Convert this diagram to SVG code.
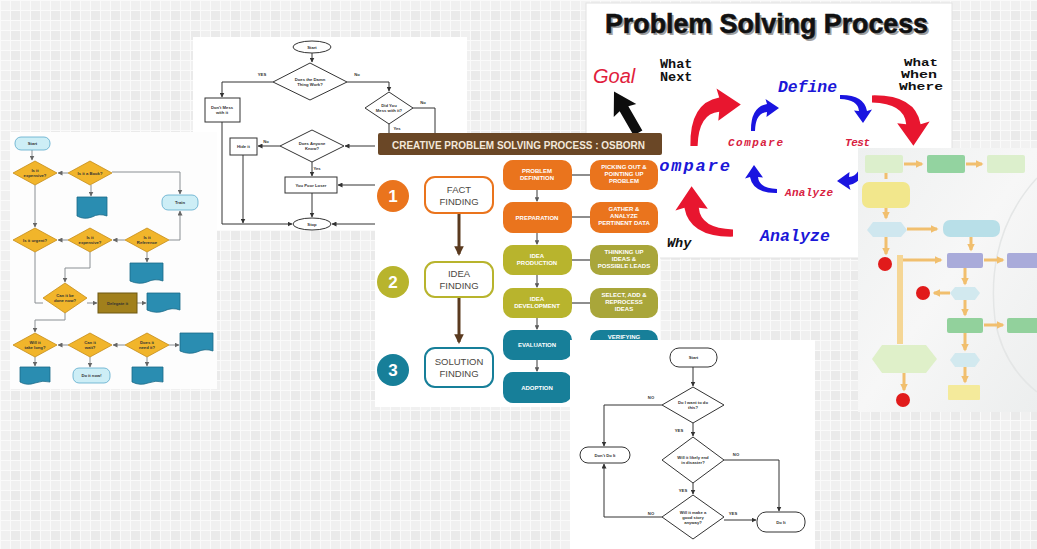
<svg xmlns="http://www.w3.org/2000/svg" width="1037" height="549" viewBox="0 0 1037 549">
<defs>
<pattern id="grid" width="20" height="20" patternUnits="userSpaceOnUse">
<rect width="20" height="20" fill="#eaeaea"/>
<rect width="10" height="20" fill="#f0f0f0"/>
<rect width="20" height="10" fill="#f3f3f3" opacity="0.6"/>
<path d="M0 0.5H20M0 10.5H20M0.5 0V20M10.5 0V20" stroke="#fafafa" stroke-width="1"/>
</pattern>
<linearGradient id="eg" x1="0" y1="0" x2="1" y2="1">
<stop offset="0" stop-color="#eef0f0"/><stop offset="0.5" stop-color="#f7f7f7"/><stop offset="1" stop-color="#eceeee"/>
</linearGradient>
<marker id="ah" viewBox="0 0 10 10" refX="9" refY="5" markerWidth="5" markerHeight="5" orient="auto"><path d="M0 0L10 5L0 10z" fill="#333"/></marker>
<marker id="ahg" viewBox="0 0 10 10" refX="9" refY="5" markerWidth="5" markerHeight="5" orient="auto"><path d="M0 0L10 5L0 10z" fill="#666"/></marker>
<marker id="ahb" viewBox="0 0 10 10" refX="8" refY="5" markerWidth="3.2" markerHeight="3.2" orient="auto"><path d="M0 0L10 5L0 10z" fill="#5a3a1f"/></marker>
<marker id="ahs" viewBox="0 0 10 10" refX="8" refY="5" markerWidth="4" markerHeight="4" orient="auto"><path d="M0 0L10 5L0 10z" fill="#5a5a5a"/></marker>
<marker id="aho" viewBox="0 0 10 10" refX="8" refY="5" markerWidth="2.5" markerHeight="2.5" orient="auto"><path d="M0 0L10 5L0 10z" fill="#f1bf6e"/></marker>
<path id="curv" d="M -4 50 Q -5 2 28 -4 L 25 -14 L 52 4 L 27 22 L 28 12 Q 5 14 4 50 Z"/>
<style>
.t{font-family:"Liberation Sans",Arial,sans-serif}
.tiny{font-family:"Liberation Sans",Arial,sans-serif;font-size:4.2px;font-weight:bold;fill:#333;text-anchor:middle}
.pill{font-family:"Liberation Sans",Arial,sans-serif;font-size:6px;font-weight:bold;fill:#fff;text-anchor:middle}
.big{font-family:"Liberation Sans",Arial,sans-serif;font-size:9.5px;fill:#4b4743;text-anchor:middle}
.num{font-family:"Liberation Sans",Arial,sans-serif;font-size:17px;font-weight:bold;fill:#fff;text-anchor:middle}
.mono{font-family:"Liberation Mono","DejaVu Sans Mono",monospace;font-weight:bold}
.blu{fill:#1b17d8;font-style:italic}
.rd{fill:#d8213f;font-style:italic}
.blk{fill:#111}
.ln{fill:none;stroke:#333;stroke-width:1}
.lg{fill:none;stroke:#8a8f93;stroke-width:1}
.dia{fill:#f1b52b;stroke:#c58d18;stroke-width:0.8}
.doc{fill:#2a8db1;stroke:#1a6a88;stroke-width:0.8}
.term{fill:#cdeef6;stroke:#5aaacb;stroke-width:0.8}
.bw{fill:#fff;stroke:#333;stroke-width:1}
.ora{fill:#ea741d}
.oli{fill:#b8b42d}
.oli2{fill:#a9a63a}
.tea{fill:#177f99}
.oar{fill:none;stroke:#f1bf6e;stroke-width:3}
.ra{fill:#e8162f}
.ba{fill:#1a14e0}
</style>
</defs>

<rect width="1037" height="549" fill="url(#grid)"/>

<!-- Panel B: black and white flowchart -->
<g id="panelB">
<rect x="193" y="37" width="274" height="193" fill="#fff"/>
<g id="connectorsB">
<path class="ln" d="M312 53V62" marker-end="url(#ah)"/>
<path class="ln" d="M273 82H222V97" marker-end="url(#ah)"/>
<path class="ln" d="M347 82H389V91" marker-end="url(#ah)"/>
<path class="ln" d="M413 108H435V140"/>
<path class="ln" d="M389 124V140"/>
<path class="ln" d="M280 146H258" marker-end="url(#ah)"/>
<path class="ln" d="M380 146H345" marker-end="url(#ah)"/>
<path class="ln" d="M312 162V176" marker-end="url(#ah)"/>
<path class="ln" d="M380 185H338" marker-end="url(#ah)"/>
<path class="ln" d="M312 193V217" marker-end="url(#ah)"/>
<path class="ln" d="M222 122V224H292" marker-end="url(#ah)"/>
<path class="ln" d="M243 155V223" marker-end="url(#ah)"/>
<path class="ln" d="M380 224H332" marker-end="url(#ah)"/>
</g>
<g id="b-start"><ellipse class="bw" cx="312" cy="47" rx="19" ry="6"/><text class="tiny" x="312" y="48.5">Start</text></g>
<g id="b-d1"><polygon class="bw" points="273,82 310,63 347,82 310,100"/><text class="tiny" x="310" y="81">Does the Damn</text><text class="tiny" x="310" y="86">Thing Work?</text></g>
<g id="b-dontmess"><rect class="bw" x="205" y="98" width="35" height="24"/><text class="tiny" x="222" y="109">Don't Mess</text><text class="tiny" x="222" y="114">with it</text></g>
<g id="b-d2"><polygon class="bw" points="365,108 389,92 413,108 389,124"/><text class="tiny" x="389" y="107">Did You</text><text class="tiny" x="389" y="112">Mess with it?</text></g>
<g id="b-d3"><polygon class="bw" points="280,146 312,130 344,146 312,162"/><text class="tiny" x="312" y="145">Does Anyone</text><text class="tiny" x="312" y="150">Know?</text></g>
<g id="b-hide"><rect class="bw" x="230" y="138" width="27" height="17"/><text class="tiny" x="243.5" y="148">Hide it</text></g>
<g id="b-loser"><rect class="bw" x="285" y="177" width="52" height="16"/><text class="tiny" x="311" y="186.5">You Poor Loser</text></g>
<g id="b-stop"><ellipse class="bw" cx="312" cy="224" rx="19" ry="6"/><text class="tiny" x="312" y="225.5">Stop</text></g>
<g id="b-labels">
<text class="tiny" x="262" y="76">YES</text><text class="tiny" x="357" y="76">No</text>
<text class="tiny" x="423" y="104">No</text><text class="tiny" x="397" y="130">Yes</text>
<text class="tiny" x="266" y="143">No</text><text class="tiny" x="317" y="170">Yes</text>
</g>
</g>

<!-- Panel A: yellow diamond flowchart -->
<g id="panelA">
<rect x="10" y="132" width="207" height="257" fill="#fdfdfd"/>
<g id="connectorsA">
<path class="lg" d="M32 150V160" marker-end="url(#ahg)"/>
<path class="lg" d="M68 173H58" marker-end="url(#ahg)"/>
<path class="lg" d="M91 185V196" marker-end="url(#ahg)"/>
<path class="lg" d="M112 172H180V194" marker-end="url(#ahg)"/>
<path class="lg" d="M35 185V227" marker-end="url(#ahg)"/>
<path class="lg" d="M68 240H58" marker-end="url(#ahg)"/>
<path class="lg" d="M125 240H113" marker-end="url(#ahg)"/>
<path class="lg" d="M169 240H180V211" marker-end="url(#ahg)"/>
<path class="lg" d="M147 252V262" marker-end="url(#ahg)"/>
<path class="lg" d="M90 252V268H65V282" marker-end="url(#ahg)"/>
<path class="lg" d="M35 252V303H43"/>
<path class="lg" d="M87 303H97" marker-end="url(#ahg)"/>
<path class="lg" d="M137 303H146" marker-end="url(#ahg)"/>
<path class="lg" d="M65 313V320H35V332" marker-end="url(#ahg)"/>
<path class="lg" d="M68 345H58" marker-end="url(#ahg)"/>
<path class="lg" d="M125 345H113" marker-end="url(#ahg)"/>
<path class="lg" d="M169 345H179" marker-end="url(#ahg)"/>
<path class="lg" d="M35 357V366" marker-end="url(#ahg)"/>
<path class="lg" d="M90 357V367" marker-end="url(#ahg)"/>
<path class="lg" d="M147 357V366" marker-end="url(#ahg)"/>
</g>
<g id="a-start"><rect class="term" x="15" y="137" width="35" height="13" rx="6"/><text class="tiny" x="32.5" y="145">Start</text></g>
<g id="a-d1"><polygon class="dia" points="13,173 35,161 57,173 35,185"/><text class="tiny" x="35" y="172">Is it</text><text class="tiny" x="35" y="177">expensive?</text></g>
<g id="a-d2"><polygon class="dia" points="68,173 90,161 112,173 90,185"/><text class="tiny" x="90" y="174.5">Is it a Book?</text></g>
<g id="a-doc1"><path class="doc" d="M77 197H107V216Q99 213 92 217Q84 220 77 216Z"/></g>
<g id="a-train"><rect class="term" x="162" y="195" width="36" height="15" rx="6"/><text class="tiny" x="180" y="204">Train</text></g>
<g id="a-d3"><polygon class="dia" points="13,240 35,228 57,240 35,252"/><text class="tiny" x="35" y="241.5">Is it urgent?</text></g>
<g id="a-d4"><polygon class="dia" points="68,240 90,228 112,240 90,252"/><text class="tiny" x="90" y="239">Is it</text><text class="tiny" x="90" y="244">expensive?</text></g>
<g id="a-d5"><polygon class="dia" points="125,240 147,228 169,240 147,252"/><text class="tiny" x="147" y="239">Is it</text><text class="tiny" x="147" y="244">Reference</text></g>
<g id="a-doc2"><path class="doc" d="M130 263H163V281Q155 278 147 282Q139 285 130 281Z"/></g>
<g id="a-d6"><polygon class="dia" points="43,298 65,283 87,298 65,313"/><text class="tiny" x="65" y="297">Can it be</text><text class="tiny" x="65" y="302">done now?</text></g>
<g id="a-brown"><rect x="98" y="293" width="39" height="20" fill="#a1801c" stroke="#6e5812" stroke-width="1"/><text class="tiny" x="117.5" y="304.5">Delegate it</text></g>
<g id="a-doc3"><path class="doc" d="M147 293H180V310Q172 307 164 311Q156 314 147 310Z"/></g>
<g id="a-d7"><polygon class="dia" points="13,345 35,333 57,345 35,357"/><text class="tiny" x="35" y="344">Will it</text><text class="tiny" x="35" y="349">take long?</text></g>
<g id="a-d8"><polygon class="dia" points="68,345 90,333 112,345 90,357"/><text class="tiny" x="90" y="344">Can it</text><text class="tiny" x="90" y="349">wait?</text></g>
<g id="a-d9"><polygon class="dia" points="125,345 147,333 169,345 147,357"/><text class="tiny" x="147" y="344">Does it</text><text class="tiny" x="147" y="349">need it?</text></g>
<g id="a-doc4"><path class="doc" d="M180 333H213V351Q205 348 197 352Q189 355 180 351Z"/></g>
<g id="a-doc5"><path class="doc" d="M20 367H50V382Q43 380 35 383Q27 386 20 382Z"/></g>
<g id="a-term2"><rect class="term" x="73" y="368" width="37" height="15" rx="6"/><text class="tiny" x="91.5" y="377">Do it now!</text></g>
<g id="a-doc6"><path class="doc" d="M132 367H163V382Q156 380 148 383Q140 386 132 382Z"/></g>
</g>

<!-- Panel D: Problem Solving Process -->
<g id="panelD">
<rect x="586" y="3" width="366" height="255" fill="#fff" stroke="#e2e2e2" stroke-width="1"/>
<text class="t" x="607" y="35" font-size="27" font-weight="bold" fill="#a0a0a0" textLength="323" lengthAdjust="spacingAndGlyphs">Problem Solving Process</text>
<text class="t" x="605" y="33" font-size="27" font-weight="bold" fill="#111" stroke="#111" stroke-width="0.6" textLength="323" lengthAdjust="spacingAndGlyphs">Problem Solving Process</text>
<text class="t" x="593" y="83" font-size="20" font-style="italic" fill="#e11d3c">Goal</text>
<text class="mono blk" x="660" y="68" font-size="13.5">What</text>
<text class="mono blk" x="660" y="81" font-size="13.5">Next</text>
<text class="mono blk" x="904" y="66" font-size="10.5" textLength="34" lengthAdjust="spacingAndGlyphs">What</text>
<text class="mono blk" x="901" y="78" font-size="10.5" textLength="36" lengthAdjust="spacingAndGlyphs">When</text>
<text class="mono blk" x="899" y="90" font-size="10.5" textLength="44" lengthAdjust="spacingAndGlyphs">Where</text>
<text class="mono blk" x="667" y="247" font-size="13.5" font-style="italic">Why</text>
<text class="mono blu" x="778" y="92" font-size="16" textLength="59" lengthAdjust="spacingAndGlyphs">Define</text>
<text class="mono rd" x="728" y="146" font-size="11" textLength="55" lengthAdjust="spacing">Compare</text>
<text class="mono rd" x="845" y="146" font-size="11" textLength="25" lengthAdjust="spacing">Test</text>
<text class="mono rd" x="785" y="196" font-size="11" textLength="48" lengthAdjust="spacing">Analyze</text>
<text class="mono blu" x="647" y="171" font-size="17" textLength="83" lengthAdjust="spacing">Compare</text>
<text class="mono blu" x="760" y="241" font-size="16.5" textLength="70" lengthAdjust="spacing">Analyze</text>
<g id="d-arrows">
<path d="M0 -5H28L26 -13L48 0L26 13L28 5H0Z" fill="#0d0d0d" transform="translate(638,133) rotate(-120)"/>
<use href="#curv" class="ra" transform="translate(694,146) scale(0.9) translate(0,-50)"/>
<use href="#curv" class="ra" transform="translate(872,99) scale(0.9) rotate(90) translate(0,-50)"/>
<use href="#curv" class="ra" transform="translate(733,233) scale(0.9) rotate(-90) translate(0,-50)"/>
<use href="#curv" class="ba" transform="translate(753,131) scale(0.5) translate(0,-50)"/>
<use href="#curv" class="ba" transform="translate(840,97) scale(0.5) rotate(90) translate(0,-50)"/>
<use href="#curv" class="ba" transform="translate(863,158) scale(0.5) rotate(180) translate(0,-50)"/>
<use href="#curv" class="ba" transform="translate(777,191) scale(0.5) rotate(-90) translate(0,-50)"/>
</g>
</g>

<!-- Panel C: Osborn -->
<g id="panelC">
<rect x="375" y="133" width="285" height="274" fill="#fff"/>
<rect x="378" y="133" width="284" height="22" rx="2" fill="#6a4726"/>
<text class="t" x="392" y="148.5" font-size="11.5" font-weight="bold" fill="#f3e8da" textLength="253" lengthAdjust="spacingAndGlyphs">CREATIVE PROBLEM SOLVING PROCESS : OSBORN</text>
<g id="connectorsC">
<path d="M459 213V254" stroke="#5a3a1f" stroke-width="3" marker-end="url(#ahb)"/>
<path d="M459 297V342" stroke="#5a3a1f" stroke-width="3" marker-end="url(#ahb)"/>
<path d="M537 190V201" stroke="#5a5a5a" stroke-width="1.2" marker-end="url(#ahs)"/>
<path d="M537 233V244" stroke="#5a5a5a" stroke-width="1.2" marker-end="url(#ahs)"/>
<path d="M537 275V287" stroke="#5a5a5a" stroke-width="1.2" marker-end="url(#ahs)"/>
<path d="M537 318V329" stroke="#5a5a5a" stroke-width="1.2" marker-end="url(#ahs)"/>
<path d="M537 360V371" stroke="#5a5a5a" stroke-width="1.2" marker-end="url(#ahs)"/>
<path d="M572 175H590M572 217H590M572 260H590M572 303H590M572 345H590" stroke="#6a6a6a" stroke-width="1.3"/>
</g>
<g id="c-n1"><circle cx="393" cy="196" r="16" class="ora"/><text class="num" x="393" y="202">1</text></g>
<g id="c-fact"><rect x="425" y="177" width="68" height="36" rx="10" fill="#fff" stroke="#ea741d" stroke-width="2"/><text class="big" x="459" y="193">FACT</text><text class="big" x="459" y="205">FINDING</text></g>
<g id="c-n2"><circle cx="393" cy="282" r="16" class="oli"/><text class="num" x="393" y="288">2</text></g>
<g id="c-idea"><rect x="425" y="262" width="68" height="35" rx="10" fill="#fff" stroke="#b8b42d" stroke-width="2"/><text class="big" x="459" y="277">IDEA</text><text class="big" x="459" y="289">FINDING</text></g>
<g id="c-n3"><circle cx="393" cy="370" r="16" class="tea"/><text class="num" x="393" y="376">3</text></g>
<g id="c-sol"><rect x="425" y="348" width="68" height="39" rx="10" fill="#fff" stroke="#177f99" stroke-width="2"/><text class="big" x="459" y="365">SOLUTION</text><text class="big" x="459" y="377">FINDING</text></g>
<g id="c-p1"><rect x="503" y="160" width="69" height="30" rx="10" class="ora"/><text class="pill" x="537" y="173">PROBLEM</text><text class="pill" x="537" y="180">DEFINITION</text></g>
<g id="c-q1"><rect x="590" y="160" width="68" height="30" rx="10" class="ora"/><text class="pill" x="624" y="169">PICKING OUT &amp;</text><text class="pill" x="624" y="176">POINTING UP</text><text class="pill" x="624" y="183">PROBLEM</text></g>
<g id="c-p2"><rect x="503" y="202" width="69" height="31" rx="10" class="ora"/><text class="pill" x="537" y="220">PREPARATION</text></g>
<g id="c-q2"><rect x="590" y="202" width="68" height="31" rx="10" class="ora"/><text class="pill" x="624" y="211">GATHER &amp;</text><text class="pill" x="624" y="218">ANALYZE</text><text class="pill" x="624" y="225">PERTINENT DATA</text></g>
<g id="c-p3"><rect x="503" y="245" width="69" height="30" rx="10" class="oli"/><text class="pill" x="537" y="258">IDEA</text><text class="pill" x="537" y="265">PRODUCTION</text></g>
<g id="c-q3"><rect x="590" y="245" width="68" height="30" rx="10" class="oli2"/><text class="pill" x="624" y="254">THINKING UP</text><text class="pill" x="624" y="261">IDEAS &amp;</text><text class="pill" x="624" y="268">POSSIBLE LEADS</text></g>
<g id="c-p4"><rect x="503" y="288" width="69" height="30" rx="10" class="oli"/><text class="pill" x="537" y="301">IDEA</text><text class="pill" x="537" y="308">DEVELOPMENT</text></g>
<g id="c-q4"><rect x="590" y="288" width="68" height="30" rx="10" class="oli2"/><text class="pill" x="624" y="297">SELECT, ADD &amp;</text><text class="pill" x="624" y="304">REPROCESS</text><text class="pill" x="624" y="311">IDEAS</text></g>
<g id="c-p5"><rect x="503" y="330" width="69" height="30" rx="10" class="tea"/><text class="pill" x="537" y="347">EVALUATION</text></g>
<g id="c-q5"><rect x="590" y="330" width="68" height="30" rx="10" class="tea"/><text class="pill" x="624" y="339">VERIFYING</text></g>
<g id="c-p6"><rect x="503" y="372" width="69" height="31" rx="10" class="tea"/><text class="pill" x="537" y="390">ADOPTION</text></g>
</g>

<!-- Panel E: pastel flowchart -->
<g id="panelE">
<rect x="858" y="148" width="179" height="264" fill="url(#eg)"/>
<path d="M1037 178Q985 235 995 320Q1003 365 1037 392" fill="none" stroke="#e4e6e6" stroke-width="1.5"/>
<g id="connectorsE">
<path class="oar" d="M904 164H922" marker-end="url(#aho)"/>
<path class="oar" d="M966 164H982" marker-end="url(#aho)"/>
<path class="oar" d="M886 173V179"/>
<path class="oar" d="M886 208V218" marker-end="url(#aho)"/>
<path class="oar" d="M907 229H937" stroke-width="4" marker-end="url(#aho)"/>
<path class="oar" d="M886 237V254" marker-end="url(#aho)"/>
<path class="oar" d="M971 237V250" marker-end="url(#aho)"/>
<path d="M900 255V344" stroke="#f5d695" stroke-width="6"/>
<path class="oar" d="M903 260H941" stroke-width="5" marker-end="url(#aho)"/>
<path class="oar" d="M984 260H1003" marker-end="url(#aho)"/>
<path class="oar" d="M965 268V284" marker-end="url(#aho)"/>
<path class="oar" d="M950 293H934" marker-end="url(#aho)"/>
<path class="oar" d="M965 300V315" marker-end="url(#aho)"/>
<path class="oar" d="M984 325H1003" marker-end="url(#aho)"/>
<path class="oar" d="M965 333V350" marker-end="url(#aho)"/>
<path class="oar" d="M965 367V382" marker-end="url(#aho)"/>
<path class="oar" d="M904 373V390" marker-end="url(#aho)"/>
</g>
<g id="e-b1"><rect x="865" y="155" width="38" height="18" rx="2" fill="#dcefcc"/></g>
<g id="e-b2"><rect x="927" y="155" width="38" height="18" rx="2" fill="#93d3a0"/></g>
<g id="e-b3"><rect x="987" y="155" width="38" height="18" rx="2" fill="#dcefcc"/></g>
<g id="e-y1"><rect x="862" y="182" width="48" height="26" rx="7" fill="#f2e78c"/></g>
<g id="e-h1"><polygon points="867,230 873,222 901,222 907,230 901,237 873,237" fill="#cfe7ef"/></g>
<g id="e-lb"><rect x="943" y="220" width="57" height="17" rx="7" fill="#b8dfe8"/></g>
<g id="e-r1"><circle cx="885" cy="264" r="7" fill="#e11b1b"/></g>
<g id="e-pu1"><rect x="947" y="253" width="36" height="15" rx="2" fill="#a9abda"/></g>
<g id="e-pu2"><rect x="1007" y="253" width="36" height="15" rx="2" fill="#a9abda"/></g>
<g id="e-h2"><polygon points="950,293 955,287 975,287 980,293 975,300 955,300" fill="#d2e9ef"/></g>
<g id="e-r2"><circle cx="923" cy="293" r="7" fill="#e11b1b"/></g>
<g id="e-g1"><rect x="947" y="318" width="36" height="15" rx="2" fill="#92d19c"/></g>
<g id="e-g2"><rect x="1007" y="318" width="36" height="15" rx="2" fill="#92d19c"/></g>
<g id="e-h3"><polygon points="950,360 955,353 975,353 980,360 975,367 955,367" fill="#d2e9ef"/></g>
<g id="e-y2"><rect x="948" y="385" width="32" height="15" rx="1" fill="#f4ea9b"/></g>
<g id="e-dg"><polygon points="872,359 882,345 926,345 937,359 926,373 882,373" fill="#dff0c9"/></g>
<g id="e-r3"><circle cx="903" cy="400" r="7" fill="#e11b1b"/></g>
</g>

<!-- Panel F: Do I want to do this -->
<g id="panelF">
<rect x="570" y="340" width="245" height="209" fill="#fff"/>
<g id="connectorsF">
<path class="ln" d="M693 367V386" stroke="#666" marker-end="url(#ah)"/>
<path class="ln" d="M662 405H604V446" stroke="#666" marker-end="url(#ah)"/>
<path class="ln" d="M693 423V436" stroke="#666" marker-end="url(#ah)"/>
<path class="ln" d="M724 460H779V511" stroke="#666" marker-end="url(#ah)"/>
<path class="ln" d="M693 483V494" stroke="#666" marker-end="url(#ah)"/>
<path class="ln" d="M662 517H604V464" stroke="#666" marker-end="url(#ah)"/>
<path class="ln" d="M724 520H756" stroke="#666" marker-end="url(#ah)"/>
</g>
<g id="f-start"><rect class="bw" x="670" y="348" width="47" height="19" rx="9" stroke="#666"/><text class="tiny" x="693.5" y="359">Start</text></g>
<g id="f-d1"><polygon class="bw" points="662,405 693,387 724,405 693,423" stroke="#666"/><text class="tiny" x="693" y="404">Do I want to do</text><text class="tiny" x="693" y="409">this?</text></g>
<g id="f-dont"><rect class="bw" x="580" y="447" width="50" height="16" rx="8" stroke="#666"/><text class="tiny" x="605" y="456.5">Don't Do It</text></g>
<g id="f-d2"><polygon class="bw" points="662,460 693,437 724,460 693,483" stroke="#666"/><text class="tiny" x="693" y="459">Will it likely end</text><text class="tiny" x="693" y="464">in disaster?</text></g>
<g id="f-d3"><polygon class="bw" points="662,517 693,495 724,517 693,539" stroke="#666"/><text class="tiny" x="693" y="514">Will it make a</text><text class="tiny" x="693" y="519">good story</text><text class="tiny" x="693" y="524">anyway?</text></g>
<g id="f-doit"><rect class="bw" x="757" y="512" width="48" height="20" rx="9" stroke="#666"/><text class="tiny" x="781" y="523.5">Do It</text></g>
<g id="f-labels">
<text class="tiny" x="651" y="399">NO</text><text class="tiny" x="679" y="432">YES</text>
<text class="tiny" x="736" y="456">NO</text><text class="tiny" x="683" y="492">YES</text>
<text class="tiny" x="651" y="515">NO</text><text class="tiny" x="733" y="515">YES</text>
</g>
</g>
</svg>
